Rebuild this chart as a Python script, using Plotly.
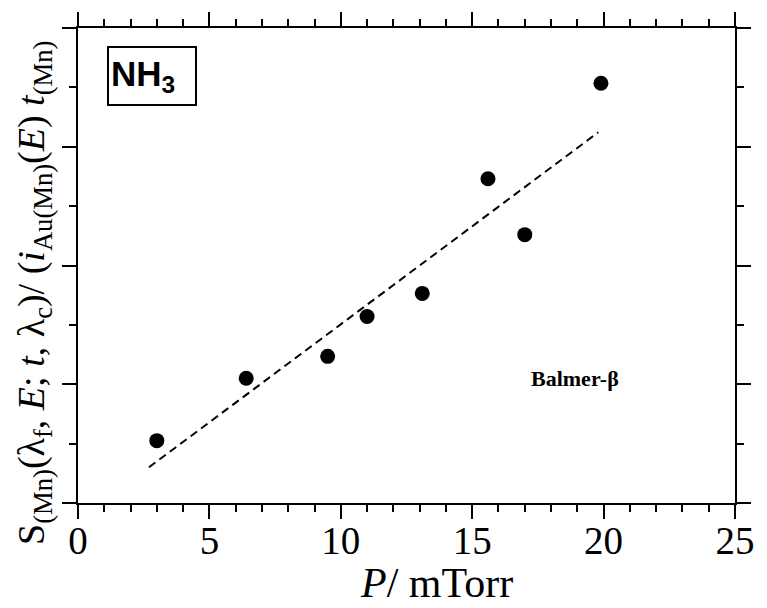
import numpy as np
import plotly.graph_objects as go

# Data
pressure = [3.0, 6.4, 9.5, 11.0, 13.1, 15.6, 17.0, 19.9]
signal = [1.05, 2.10, 2.47, 3.14, 3.53, 5.46, 4.52, 7.07]
fit_slope = 0.330
fit_intercept = -0.29
fit_x_range = [2.7, 19.8]

x_tick_vals = [0, 5, 10, 15, 20, 25]
x_tick_text = ["0", "5", "10", "15", "20", "25"]

y_title = ("S<sub>(Mn)</sub>(λ<sub>f</sub>, <i>E</i>; <i>t</i>, λ<sub>c</sub>)/ "
           "(<i>i</i><sub>Au(Mn)</sub>(<i>E</i>) <i>t</i><sub>(Mn)</sub>")
x_title = "<i>P</i>/ mTorr"

serif = "Liberation Serif, Times New Roman, serif"

fit_x = np.array(fit_x_range)
fit_y = fit_slope * fit_x + fit_intercept

fig = go.Figure()
fig.add_trace(go.Scatter(
    x=fit_x, y=fit_y, mode="lines",
    line=dict(color="black", width=2, dash="8px,5px"),
    showlegend=False, hoverinfo="skip"))
fig.add_trace(go.Scatter(
    x=pressure, y=signal, mode="markers",
    marker=dict(color="black", size=15, line=dict(width=0)),
    showlegend=False))

axis_common = dict(
    showgrid=False, zeroline=False, showline=True, linecolor="black", linewidth=2,
    ticks="outside", ticklen=14, tickwidth=2, tickcolor="black", mirror="ticks",
)

fig.update_xaxes(
    range=[0, 25], tickvals=x_tick_vals, ticktext=x_tick_text,
    tickfont=dict(family=serif, size=39, color="black"),
    ticklabelstandoff=-12,
    minor=dict(dtick=1, ticklen=7, tickwidth=2, tickcolor="black", ticks="outside", showgrid=False),
    **axis_common)
fig.update_yaxes(
    range=[0, 8], tick0=0, dtick=2, showticklabels=False,
    minor=dict(dtick=1, ticklen=7, tickwidth=2, tickcolor="black", ticks="outside", showgrid=False),
    **axis_common)

fig.add_annotation(
    x=-0.068, y=0.443, xref="paper", yref="paper", xanchor="center", yanchor="middle",
    text=y_title, textangle=-90, showarrow=False,
    font=dict(family=serif, size=38, color="black"))
fig.add_annotation(
    x=0.545, y=-0.168, xref="paper", yref="paper", xanchor="center", yanchor="middle",
    text=x_title, showarrow=False,
    font=dict(family=serif, size=42, color="black"))

fig.add_annotation(
    x=0.044, y=0.962, xref="paper", yref="paper", xanchor="left", yanchor="top",
    text="<b>NH<sub>3</sub></b>", showarrow=False,
    font=dict(family="Liberation Sans, Arial, sans-serif", size=35, color="black"),
    width=82, height=52, align="left", valign="middle",
    bordercolor="black", borderwidth=2, borderpad=2, bgcolor="white")
fig.add_annotation(
    x=0.757, y=0.262, xref="paper", yref="paper", xanchor="center", yanchor="middle",
    text="<b>Balmer-β</b>", showarrow=False,
    font=dict(family=serif, size=22, color="black"))

fig.update_layout(
    width=767, height=608,
    margin=dict(l=78, r=22, t=27, b=105),
    paper_bgcolor="white", plot_bgcolor="white",
)

fig.write_html("out.html")
